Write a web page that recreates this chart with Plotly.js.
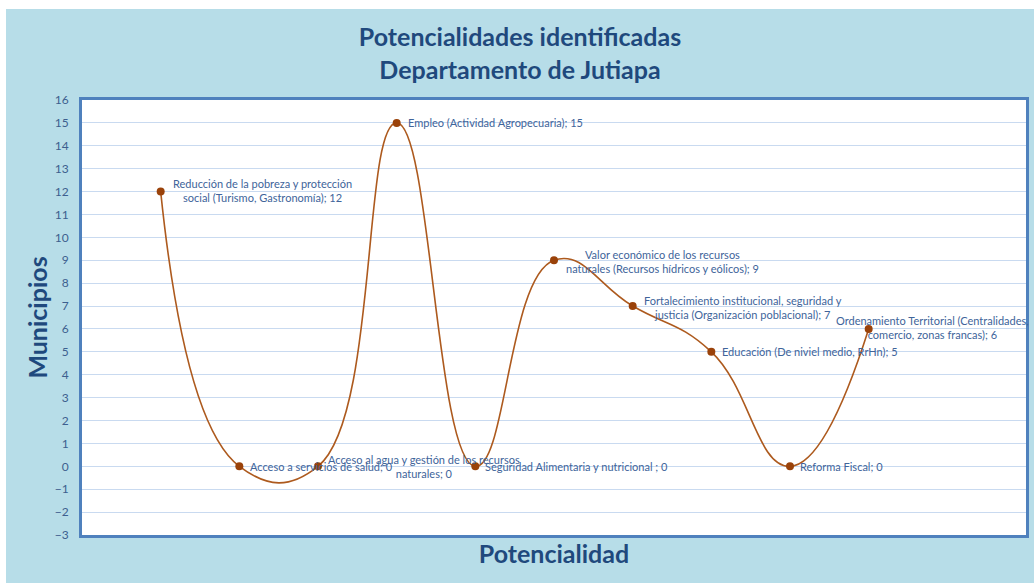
<!DOCTYPE html>
<html>
<head>
<meta charset="utf-8">
<script src="https://cdn.plot.ly/plotly-3.0.1.min.js"></script>
<style>
  html, body { margin: 0; padding: 0; background: #ffffff; }
  #chart { position: absolute; left: 6px; top: 9px; width: 1028px; height: 574px; }
</style>
</head>
<body>
<div id="chart"></div>
<script>
// Potencialidades identificadas - Departamento de Jutiapa
const categories = [
  'Reducción de la pobreza y protección<br>social (Turismo, Gastronomía)',
  'Acceso a servicios de salud',
  'Acceso al agua y gestión de los recursos<br>naturales',
  'Empleo (Actividad Agropecuaria)',
  'Seguridad Alimentaria y nutricional ',
  'Valor económico de los recursos<br>naturales (Recursos hídricos y eólicos)',
  'Fortalecimiento institucional, seguridad y<br>justicia (Organización poblacional)',
  'Educación (De niviel medio, RrHn)',
  'Reforma Fiscal',
  'Ordenamiento Territorial (Centralidades,<br>comercio, zonas francas)'
];
const municipios = [12, 0, 0, 15, 0, 9, 7, 5, 0, 6];

// label placement relative to each point (pixels)
const labelAnchor = ['center', 'left', 'center', 'left', 'left', 'center', 'center', 'left', 'left', 'center'];
const labelShiftX = [102, 9, 106, 9, 8, 108, 110, 9, 8, 64];
const labelShiftY = [1, 0, 0, 0, 0, -1, -1, 0, 0, 1];

const xIdx = categories.map((_, i) => i);

const lineTrace = {
  x: xIdx,
  y: municipios,
  type: 'scatter',
  mode: 'lines+markers',
  line: { color: '#ad5a1e', width: 1.6, shape: 'spline', smoothing: 1.3 },
  marker: { color: '#9a420a', size: 8 },
  hoverinfo: 'skip'
};

const annotations = categories.map((c, i) => ({
  x: i,
  y: municipios[i],
  xref: 'x',
  yref: 'y',
  text: c + '; ' + municipios[i],
  showarrow: false,
  xanchor: labelAnchor[i],
  yanchor: 'middle',
  align: 'center',
  xshift: labelShiftX[i],
  yshift: labelShiftY[i],
  font: { family: 'Lato, sans-serif', size: 11, color: '#40649a' }
}));

const layout = {
  width: 1028,
  height: 574,
  paper_bgcolor: '#b7dde8',
  plot_bgcolor: '#ffffff',
  margin: { l: 76, r: 8, t: 91, b: 48 },
  showlegend: false,
  title: {
    text: 'Potencialidades identificadas<br>Departamento de Jutiapa',
    font: { family: 'Lato, sans-serif', size: 25, color: '#1f497d', weight: 'bold' },
    x: 0.5,
    xanchor: 'center',
    y: 0.935,
    yanchor: 'middle',
    yref: 'container'
  },
  xaxis: {
    range: [-1, 11],
    showticklabels: false,
    ticks: '',
    showgrid: false,
    zeroline: false,
    showline: true,
    linecolor: '#4f81bd',
    linewidth: 3,
    mirror: true,
    title: {
      text: 'Potencialidad',
      standoff: 9,
      font: { family: 'Lato, sans-serif', size: 25, color: '#1f497d', weight: 'bold' }
    }
  },
  yaxis: {
    range: [-3, 16],
    dtick: 1,
    tick0: 0,
    showgrid: true,
    gridcolor: '#c9daf0',
    gridwidth: 1,
    zeroline: false,
    showline: true,
    linecolor: '#4f81bd',
    linewidth: 3,
    mirror: true,
    ticks: '',
    ticklabelstandoff: 8,
    tickfont: { family: 'Lato, sans-serif', size: 12, color: '#3d5f8f' },
    title: {
      text: 'Municipios',
      standoff: 0,
      font: { family: 'Lato, sans-serif', size: 25, color: '#1f497d', weight: 'bold' }
    }
  },
  annotations: annotations
};

Plotly.newPlot('chart', [lineTrace], layout, { displayModeBar: false, staticPlot: true });
</script>
</body>
</html>
